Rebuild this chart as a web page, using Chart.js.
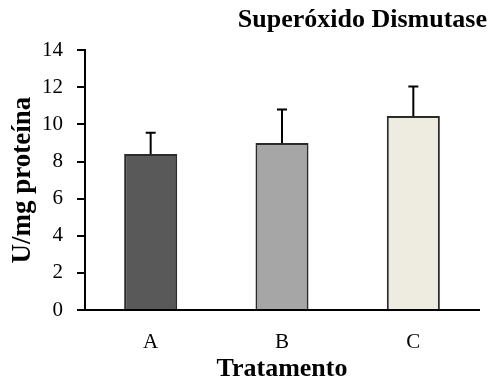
<!DOCTYPE html>
<html>
<head>
<meta charset="utf-8">
<script src="https://cdn.jsdelivr.net/npm/chart.js@4/dist/chart.umd.min.js"></script>
<style>
html,body{margin:0;padding:0;background:#fff;}
#wrap{width:491px;height:385px;position:relative;}
</style>
</head>
<body>
<div id="wrap"><canvas id="c" width="491" height="385"></canvas></div>
<script>
const categories = ['A', 'B', 'C'];
const meanValues = [8.4, 9.0, 10.45];
const errorValues = [1.15, 1.8, 1.6];
const barColors = ['#595959', '#a6a6a6', '#eeece1'];
const yMin = 0, yMax = 14, yStep = 2;
const chartTitle = 'Superóxido Dismutase';
const xTitle = 'Tratamento';
const yTitle = 'U/mg proteína';

const FONT = "'Liberation Serif', 'Times New Roman', serif";

const errorBarPlugin = {
  id: 'errorBars',
  afterDatasetsDraw(chart) {
    const ctx = chart.ctx;
    const meta = chart.getDatasetMeta(0);
    const ys = chart.scales.y;
    ctx.save();
    ctx.strokeStyle = '#000';
    ctx.lineWidth = 2;
    meta.data.forEach((bar, i) => {
      const x = bar.x;
      const yTop = ys.getPixelForValue(meanValues[i] + errorValues[i]);
      const yBase = ys.getPixelForValue(meanValues[i]);
      ctx.beginPath();
      ctx.moveTo(x, yBase);
      ctx.lineTo(x, yTop);
      ctx.moveTo(x - 5, yTop);
      ctx.lineTo(x + 5, yTop);
      ctx.stroke();
    });
    ctx.restore();
  }
};

new Chart(document.getElementById('c'), {
  type: 'bar',
  data: {
    labels: categories,
    datasets: [{
      data: meanValues,
      backgroundColor: barColors,
      borderColor: '#2b2b2b',
      borderWidth: 2,
      categoryPercentage: 1,
      barPercentage: 0.404
    }]
  },
  options: {
    responsive: false,
    animation: false,
    devicePixelRatio: 1,
    layout: { padding: { left: 0, right: 4, top: 0, bottom: 0 } },
    plugins: {
      legend: { display: false },
      tooltip: { enabled: false },
      title: {
        display: true,
        text: chartTitle,
        align: 'end',
        color: '#000',
        font: { family: FONT, size: 26, weight: 'bold' },
        padding: { top: 5, bottom: 14 }
      }
    },
    scales: {
      x: {
        grid: { display: false },
        border: { display: true, color: '#000', width: 2 },
        ticks: { color: '#000', font: { family: FONT, size: 21 }, padding: 12 },
        title: {
          display: true, text: xTitle, color: '#000',
          font: { family: FONT, size: 26, weight: 'bold' },
          padding: { top: 1, bottom: 0 }
        },
        afterFit(s) { s.height = 75; }
      },
      y: {
        min: yMin, max: yMax,
        grid: { display: true, drawOnChartArea: false, drawTicks: true, tickLength: 8, color: '#000', lineWidth: 2 },
        border: { display: true, color: '#000', width: 2 },
        ticks: { stepSize: yStep, color: '#000', font: { family: FONT, size: 21 }, padding: 14 },
        title: {
          display: true, text: yTitle, color: '#000',
          font: { family: FONT, size: 27, weight: 'bold' },
          padding: { top: 7, bottom: 0 }
        },
        afterFit(s) { s.width = 85; }
      },
      y2: {
        position: 'right',
        display: true,
        grid: { display: false },
        border: { display: false },
        ticks: { display: false },
        afterFit(s) { s.width = 8; }
      }
    }
  },
  plugins: [errorBarPlugin]
});
</script>
</body>
</html>
